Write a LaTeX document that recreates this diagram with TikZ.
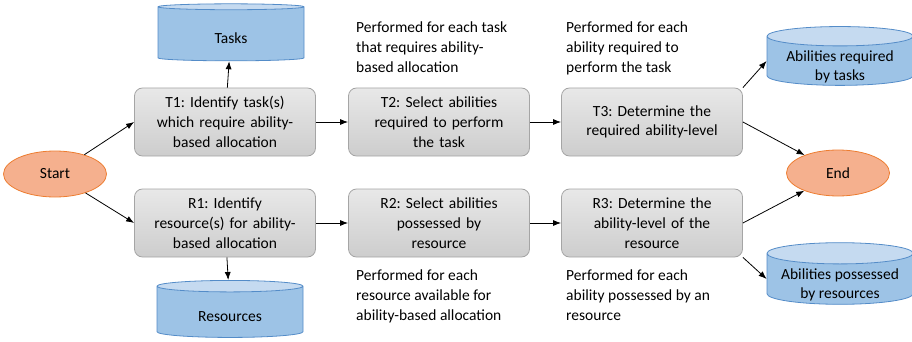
\documentclass[tikz,border=0pt]{standalone}
\usepackage{fontspec}
\setmainfont{Carlito}
\usetikzlibrary{shapes.geometric,arrows.meta}
\frenchspacing

\definecolor{boxtop}{RGB}{232,232,232}
\definecolor{boxbot}{RGB}{205,205,205}
\definecolor{boxline}{RGB}{165,165,165}
\definecolor{ovalfill}{RGB}{245,176,142}
\definecolor{ovalline}{RGB}{237,125,49}
\definecolor{dbbody}{RGB}{157,195,230}
\definecolor{dbend}{RGB}{197,218,240}
\definecolor{dbline}{RGB}{84,140,200}

% text in a store sits a little below its middle
\newcommand{\storetext}[1]{\raisebox{-6pt}[\dimexpr\height-5pt][\dimexpr\depth-5pt]{\begin{tabular}{@{}c@{}}#1\end{tabular}}}

\begin{document}
\begin{tikzpicture}[x=1pt,y=-1pt,
  font=\fontsize{15.5}{19.7}\selectfont,
  stepbox/.style={rectangle,rounded corners=8pt,draw=boxline,thick,top color=boxtop,bottom color=boxbot,
    minimum width=181pt,minimum height=68pt,align=center,text width=174pt,inner sep=2pt},
  oval/.style={ellipse,draw=ovalline,thick,fill=ovalfill,minimum width=103pt,minimum height=46pt},
  store/.style={cylinder,shape border rotate=90,aspect=0.18,draw=dbline,thick,
    cylinder uses custom fill,cylinder body fill=dbbody,cylinder end fill=dbend,
    minimum width=146pt,minimum height=57pt,inner sep=0pt},
  note/.style={anchor=north west,align=left,inner sep=0pt},
  arr/.style={-{Latex[length=8pt,width=6pt]},thick}]
\useasboundingbox (0,0) rectangle (912,342);

\node[oval] (startnode) at (55,174) {Start};
\node[oval] (endnode) at (838,173) {End};

\node[stepbox] (t1) at (225,122) {T1: Identify task(s)\\which require ability-\\based allocation};
\node[stepbox] (t2) at (439,122) {T2: Select abilities\\required to perform\\the task};
\node[stepbox] (t3) at (652,122) {T3: Determine the\\required ability-level};
\node[stepbox] (r1) at (225,223) {R1: Identify\\resource(s) for ability-\\based allocation};
\node[stepbox] (r2) at (439,223) {R2: Select abilities\\possessed by\\resource};
\node[stepbox] (r3) at (652,223) {R3: Determine the\\ability-level of the\\resource};

\node[store] (tasks) at (231,34) {\storetext{Tasks}};
\node[store] (resources) at (230,312) {\storetext{Resources}};
\node[store] (abreq) at (840,61) {\storetext{Abilities required\\by tasks}};
\node[store] (abpos) at (840,279) {\storetext{Abilities possessed\\by resources}};

\node[note] (t2note) at (356,22) {Performed for each task\\that requires ability-\\based allocation};
\node[note] (t3note) at (566,22) {Performed for each\\ability required to\\perform the task};
\node[note] (r2note) at (356,270) {Performed for each\\resource available for\\ability-based allocation};
\node[note] (r3note) at (566,270) {Performed for each\\ability possessed by an\\resource};

\draw[arr] (startnode) -- (t1.west);
\draw[arr] (startnode) -- (r1.west);
\draw[arr] (t1) -- (tasks);
\draw[arr] (r1) -- (resources);
\draw[arr] (t1) -- (t2);
\draw[arr] (t2) -- (t3);
\draw[arr] (r1) -- (r2);
\draw[arr] (r2) -- (r3);
\draw[arr] (t3.north east) -- (abreq.180);
\draw[arr] (t3.east) -- (endnode);
\draw[arr] (r3.east) -- (endnode);
\draw[arr] (r3.south east) -- (abpos.180);

\end{tikzpicture}
\end{document}
